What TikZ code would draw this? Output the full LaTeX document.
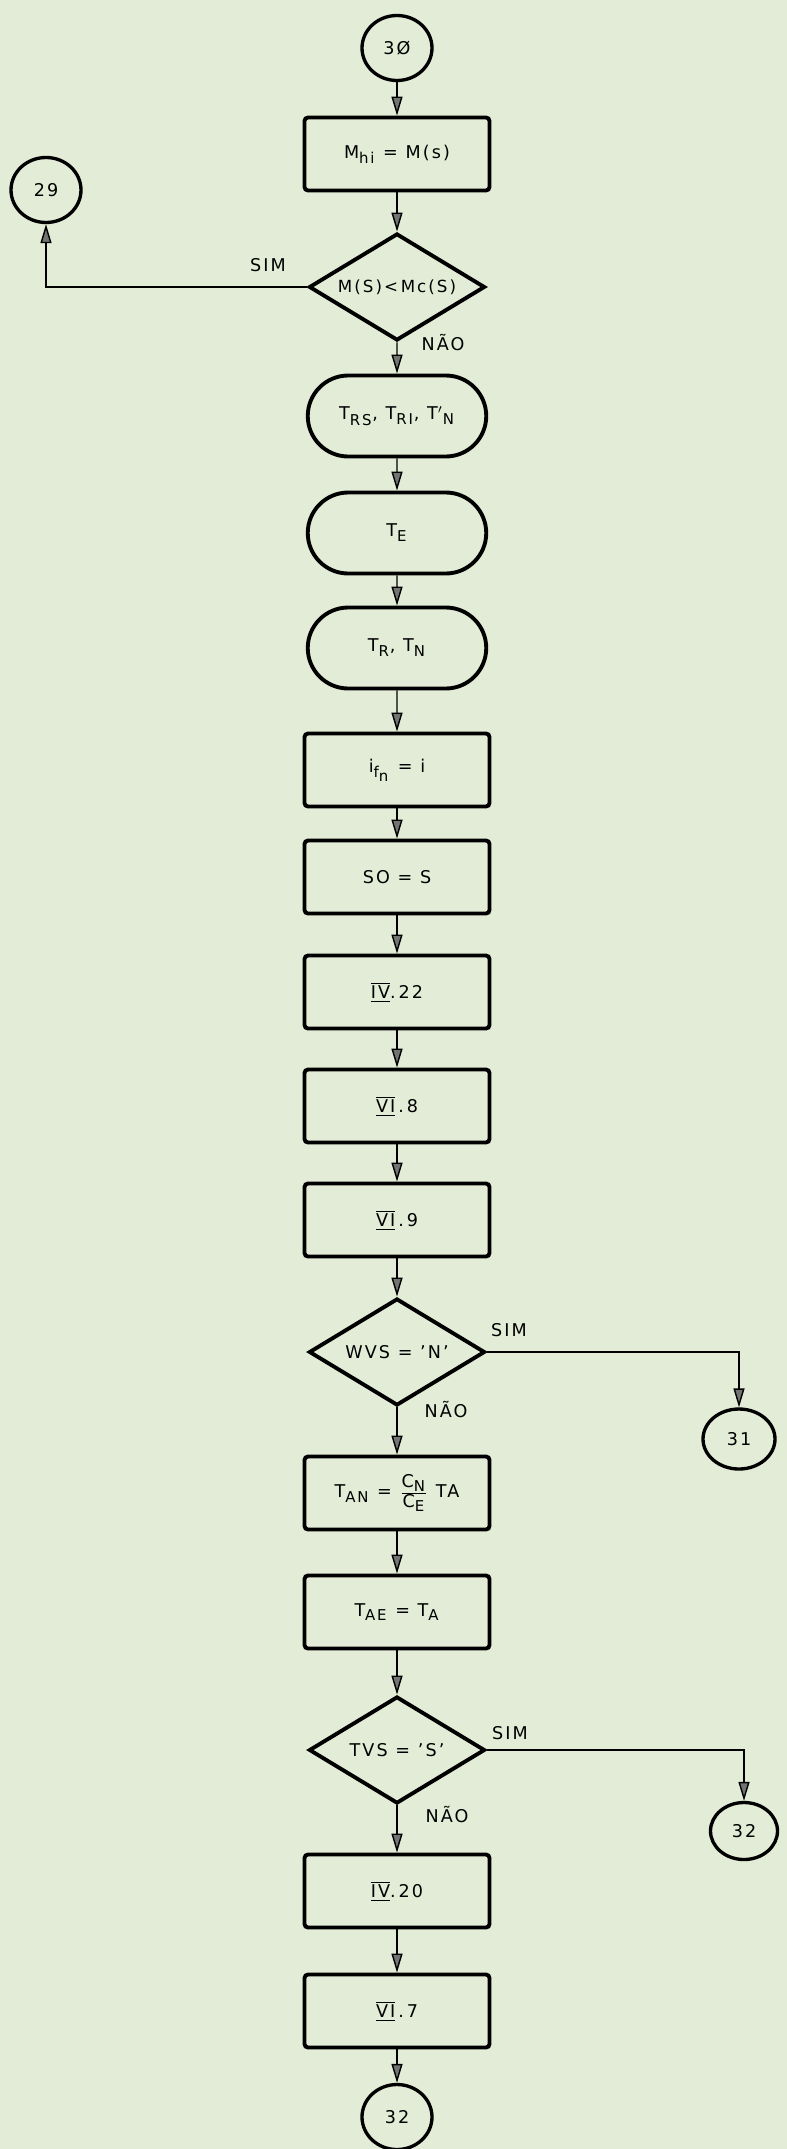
\documentclass[tikz,border=0pt]{standalone}
\usepackage{fontspec}
\setmainfont{DejaVu Sans}[LetterSpace=12]
\usepackage{tikz}
\usetikzlibrary{arrows.meta}
\usetikzlibrary{shapes.geometric}
\usetikzlibrary{shapes.misc}
\definecolor{papel}{RGB}{226,236,214}
\newcommand{\romano}[1]{$\overline{\underline{\hbox{#1}}}$}
\newcommand{\ind}[1]{\textsubscript{\fontsize{8.5}{10}\selectfont #1}}

\begin{document}
\begin{tikzpicture}[scale=1,font=\fontsize{10}{12}\selectfont,
        caixa/.style={draw,line width=2.2pt,rounded corners=2pt,minimum width=3.7cm,minimum height=1.46cm,inner sep=1pt},
        oval/.style={draw,line width=2.2pt,rounded rectangle,minimum width=3.64cm,minimum height=1.62cm,inner sep=1pt},
        teste/.style={draw,line width=2.2pt,diamond,aspect=1.65,minimum width=3.52cm,minimum height=2.14cm,inner sep=0pt},
        conector/.style={draw,line width=1.9pt,ellipse,minimum width=1.4cm,minimum height=1.3cm,inner sep=0pt},
        fluxo/.style={line width=0.8pt,-{Triangle[length=0.38cm,width=0.22cm,fill=black!55]}}]
        \useasboundingbox (0,0) rectangle (15.74,-42.98);
        \fill[papel] (0,0) rectangle (15.74,-42.98);
        \node[conector] (c30) at (7.94,-0.96) {3Ø};
        \node[caixa] (mhi) at (7.94,-3.08) {M\ind{hi} = M(s)};
        \node[teste] (d1) at (7.94,-5.74) {\fontsize{9.5}{11}\selectfont M(S)<\,Mc(S)};
        \node[conector] (c29) at (0.92,-3.80) {29};
        \node[oval] (o1) at (7.94,-8.32) {T\ind{RS}, T\ind{RI}, T$'$\ind{N}};
        \node[oval] (o2) at (7.94,-10.66) {T\ind{E}};
        \node[oval] (o3) at (7.94,-12.96) {T\ind{R}, T\ind{N}};
        \node[caixa] (b1) at (7.94,-15.40) {i\ind{f\ind{n}} = i};
        \node[caixa] (b2) at (7.94,-17.54) {SO = S};
        \node[caixa] (b3) at (7.94,-19.84) {\romano{IV}.\,22};
        \node[caixa] (b4) at (7.94,-22.12) {\romano{VI}\,.\,8};
        \node[caixa] (b5) at (7.94,-24.40) {\romano{VI}\,.\,9};
        \node[teste] (d2) at (7.94,-27.04) {WVS = 'N'};
        \node[conector,minimum width=1.44cm,minimum height=1.2cm] (c31) at (14.78,-28.78) {31};
        \node[caixa] (b6) at (7.94,-29.86) {T\ind{AN} = $\frac{\hbox{C\ind{N}}}{\hbox{C\ind{E}}}$ TA};
        \node[caixa] (b7) at (7.94,-32.24) {T\ind{AE} = T\ind{A}};
        \node[teste] (d3) at (7.94,-35.00) {TVS = 'S'};
        \node[conector,minimum width=1.34cm,minimum height=1.14cm] (c32a) at (14.88,-36.62) {32};
        \node[caixa] (b8) at (7.94,-37.82) {\romano{IV}.\,20};
        \node[caixa] (b9) at (7.94,-40.22) {\romano{VI}\,.\,7};
        \node[conector] (c32) at (7.94,-42.34) {32};
        \node (sim1) at (5.36,-5.30) {SIM};
        \node (nao1) at (8.86,-6.86) {NÃO};
        \node (sim2) at (10.18,-26.60) {SIM};
        \node (nao2) at (8.92,-28.20) {NÃO};
        \node (sim3) at (10.20,-34.66) {SIM};
        \node (nao3) at (8.94,-36.30) {NÃO};
        \draw[fluxo] (c30) -- (mhi);
        \draw[fluxo] (mhi) -- (d1);
        \draw[fluxo] (d1.west) -| (c29);
        \draw[fluxo] (d1) -- (o1);
        \draw[fluxo] (o1) -- (o2);
        \draw[fluxo] (o2) -- (o3);
        \draw[fluxo] (o3) -- (b1);
        \draw[fluxo] (b1) -- (b2);
        \draw[fluxo] (b2) -- (b3);
        \draw[fluxo] (b3) -- (b4);
        \draw[fluxo] (b4) -- (b5);
        \draw[fluxo] (b5) -- (d2);
        \draw[fluxo] (d2.east) -| (c31);
        \draw[fluxo] (d2) -- (b6);
        \draw[fluxo] (b6) -- (b7);
        \draw[fluxo] (b7) -- (d3);
        \draw[fluxo] (d3.east) -| (c32a);
        \draw[fluxo] (d3) -- (b8);
        \draw[fluxo] (b8) -- (b9);
        \draw[fluxo] (b9) -- (c32);
    \end{tikzpicture}
\end{document}
